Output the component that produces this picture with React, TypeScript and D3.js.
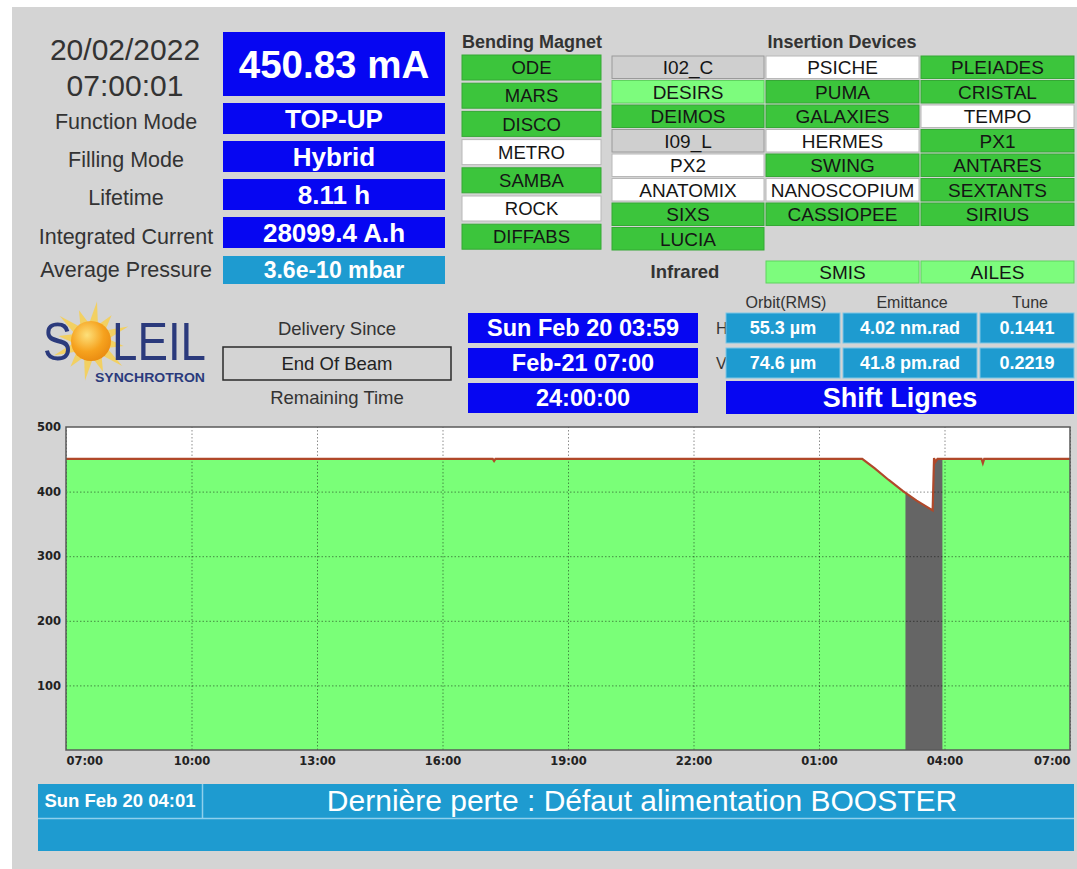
import { useEffect, useRef } from "react";
import * as d3 from "d3";

// ---- data ----
const dateLine = "20/02/2022";
const timeLine = "07:00:01";
const beamCurrentText = "450.83 mA";
const statusLabels = ["Function Mode", "Filling Mode", "Lifetime", "Integrated Current", "Average Pressure"];
const statusValues = ["TOP-UP", "Hybrid", "8.11 h", "28099.4 A.h", "3.6e-10 mbar"];

const bendingMagnets = ["ODE", "MARS", "DISCO", "METRO", "SAMBA", "ROCK", "DIFFABS"];
const bendingStates = ["on", "on", "on", "off", "on", "off", "on"];

const idColumn1 = ["I02_C", "DESIRS", "DEIMOS", "I09_L", "PX2", "ANATOMIX", "SIXS", "LUCIA"];
const idStates1 = ["na", "open", "on", "na", "off", "off", "on", "on"];
const idColumn2 = ["PSICHE", "PUMA", "GALAXIES", "HERMES", "SWING", "NANOSCOPIUM", "CASSIOPEE"];
const idStates2 = ["off", "on", "on", "off", "on", "off", "on"];
const idColumn3 = ["PLEIADES", "CRISTAL", "TEMPO", "PX1", "ANTARES", "SEXTANTS", "SIRIUS"];
const idStates3 = ["on", "on", "off", "on", "on", "on", "on"];
const infrared = ["SMIS", "AILES"];
const infraredStates = ["open", "open"];

const deliveryLabels = ["Delivery Since", "End Of Beam", "Remaining Time"];
const deliveryValues = ["Sun Feb 20 03:59", "Feb-21 07:00", "24:00:00"];

const beamHeaders = ["Orbit(RMS)", "Emittance", "Tune"];
const planes = ["H", "V"];
const beamH = ["55.3 µm", "4.02 nm.rad", "0.1441"];
const beamV = ["74.6 µm", "41.8 pm.rad", "0.2219"];
const shiftText = "Shift Lignes";

// stored current history (mA)
const historyTimes = [
  "2022-02-19 07:00", "2022-02-19 17:12", "2022-02-19 17:14", "2022-02-19 17:16",
  "2022-02-20 02:02", "2022-02-20 02:20", "2022-02-20 02:40", "2022-02-20 03:00",
  "2022-02-20 03:20", "2022-02-20 03:43", "2022-02-20 03:45", "2022-02-20 03:47",
  "2022-02-20 03:50", "2022-02-20 04:53", "2022-02-20 04:55", "2022-02-20 04:57",
  "2022-02-20 07:00",
];
const historyCurrent = [
  450.8, 450.8, 447.5, 450.8,
  450.8, 436, 418, 401,
  386, 371, 452, 446,
  450.8, 450.8, 444, 450.8,
  450.8,
];
const beamOffWindow = ["2022-02-20 03:04", "2022-02-20 03:57"];
const timeTicks = [
  "2022-02-19 07:00", "2022-02-19 10:00", "2022-02-19 13:00", "2022-02-19 16:00",
  "2022-02-19 19:00", "2022-02-19 22:00", "2022-02-20 01:00", "2022-02-20 04:00",
  "2022-02-20 07:00",
];
const currentTicks = [100, 200, 300, 400, 500];

const lastLossTime = "Sun Feb 20 04:01";
const lastLossText = "Dernière perte : Défaut alimentation BOOSTER";

// ---- styles ----
const FONT = "'Liberation Sans', Arial, sans-serif";
const BG = "#d4d4d4";
const BLUE = "#0606f2";
const CYAN = "#1e9bd0";
const stateFill: Record<string, string> = { on: "#3cc53c", open: "#7dfc7d", off: "#ffffff", na: "#cfcfcf" };
const stateStroke: Record<string, string> = { on: "#35a835", open: "#5fd35f", off: "#b8b8b8", na: "#9a9a9a" };

interface BoxProps {
  x: number; y: number; w: number; h: number;
  fill: string; stroke?: string; text: string;
  size: number; bold?: boolean; color?: string; dy?: number;
}

const Box = ({ x, y, w, h, fill, stroke, text, size, bold, color, dy }: BoxProps) => (
  <g>
    <rect x={x} y={y} width={w} height={h} fill={fill} stroke={stroke ?? "none"} strokeWidth={1} />
    <text
      x={x + w / 2}
      y={y + h / 2 + size * 0.36 + (dy ?? 0)}
      textAnchor="middle"
      fontFamily={FONT}
      fontSize={size}
      fontWeight={bold ? "bold" : "normal"}
      fill={color ?? "#fff"}
    >
      {text}
    </text>
  </g>
);

const Logo = () => {
  const cx = 91, cy = 341;
  const rays = d3.range(12).map((i) => {
    const a = (i / 12) * Math.PI * 2 - Math.PI / 2 + 0.15;
    const b = 0.22;
    const p = (ang: number, r: number) => `${cx + r * Math.cos(ang)},${cy + r * Math.sin(ang)}`;
    return `${p(a - b, 19)} ${p(a, i % 2 ? 33 : 40)} ${p(a + b, 19)}`;
  });
  return (
    <g>
      <defs>
        <radialGradient id="sun" cx="40%" cy="35%" r="70%">
          <stop offset="0%" stopColor="#fde07a" />
          <stop offset="60%" stopColor="#f6a21e" />
          <stop offset="100%" stopColor="#e98a10" />
        </radialGradient>
      </defs>
      {rays.map((r, i) => (
        <polygon key={i} points={r} fill="#f7cf4e" opacity={0.85} />
      ))}
      <circle cx={cx} cy={cy} r={20} fill="url(#sun)" />
      <text x={43} y={360} fontFamily={FONT} fontSize={54} fill="#2b3a7c" textLength={29} lengthAdjust="spacingAndGlyphs">S</text>
      <text x={112} y={360} fontFamily={FONT} fontSize={54} fill="#2b3a7c" textLength={94} lengthAdjust="spacingAndGlyphs">LEIL</text>
      <text x={95} y={382} fontFamily={FONT} fontSize={12} fontWeight="bold" fill="#2b3a7c" textLength={110} lengthAdjust="spacingAndGlyphs">SYNCHROTRON</text>
    </g>
  );
};

const CurrentChart = () => {
  const gRef = useRef<SVGGElement | null>(null);

  useEffect(() => {
    if (!gRef.current) return;
    const parse = d3.timeParse("%Y-%m-%d %H:%M");
    const data = historyTimes.map((t, i) => ({ date: parse(t)!, value: historyCurrent[i] }));
    const ticks = timeTicks.map((t) => parse(t)!);
    const off = beamOffWindow.map((t) => parse(t)!);

    const left = 66, right = 1070, top = 427, bottom = 750;
    const x = d3.scaleTime().domain([ticks[0], ticks[ticks.length - 1]]).range([left, right]);
    const y = d3.scaleLinear().domain([0, 500]).range([bottom, top]);

    const g = d3.select(gRef.current);
    g.selectAll("*").remove();

    g.append("rect").attr("x", left).attr("y", top).attr("width", right - left).attr("height", bottom - top).attr("fill", "#fff");

    const area = d3.area<{ date: Date; value: number }>().x((d) => x(d.date)).y0(y(0)).y1((d) => y(d.value));
    const line = d3.line<{ date: Date; value: number }>().x((d) => x(d.date)).y((d) => y(d.value));

    g.append("path").datum(data).attr("fill", "#7aff78").attr("d", area);

    // beam off window
    g.append("clipPath").attr("id", "beam-off")
      .append("rect").attr("x", x(off[0])).attr("y", top).attr("width", x(off[1]) - x(off[0])).attr("height", bottom - top);
    g.append("path").datum(data).attr("fill", "#656565").attr("clip-path", "url(#beam-off)").attr("d", area);

    // grid
    g.append("g")
      .attr("transform", `translate(0,${bottom})`)
      .call(d3.axisBottom(x).tickValues(ticks).tickSize(-(bottom - top)).tickFormat(() => ""))
      .call((s) => s.select(".domain").remove())
      .selectAll("line").attr("stroke", "#000").attr("stroke-opacity", 0.45).attr("stroke-dasharray", "1.5,2");

    g.append("g")
      .attr("transform", `translate(${left},0)`)
      .call(d3.axisLeft(y).tickValues(currentTicks.slice(0, -1)).tickSize(-(right - left)).tickFormat(() => ""))
      .call((s) => s.select(".domain").remove())
      .selectAll("line").attr("stroke", "#000").attr("stroke-opacity", 0.45).attr("stroke-dasharray", "1.5,2");

    g.append("path").datum(data).attr("fill", "none").attr("stroke", "#b0482a").attr("stroke-width", 2.2).attr("d", line);

    g.append("rect").attr("x", left).attr("y", top).attr("width", right - left).attr("height", bottom - top)
      .attr("fill", "none").attr("stroke", "#5a5a5a").attr("stroke-width", 1.5);

    // axis labels
    const yAxis = g.append("g")
      .attr("transform", `translate(${left},0)`)
      .call(d3.axisLeft(y).tickValues(currentTicks).tickSize(0).tickPadding(5));
    yAxis.select(".domain").remove();
    yAxis.selectAll("text").attr("font-family", "'DejaVu Sans', sans-serif").attr("font-weight", "bold").attr("font-size", 11.5).attr("fill", "#222");

    const xAxis = g.append("g")
      .attr("transform", `translate(0,${bottom})`)
      .call(d3.axisBottom(x).tickValues(ticks).tickSize(0).tickPadding(7).tickFormat(d3.timeFormat("%H:%M") as any));
    xAxis.select(".domain").remove();
    xAxis.selectAll<SVGTextElement, Date>("text")
      .attr("font-family", "'DejaVu Sans', sans-serif").attr("font-weight", "bold").attr("font-size", 11.5).attr("fill", "#222")
      .attr("text-anchor", (_, i) => (i === 0 ? "start" : i === ticks.length - 1 ? "end" : "middle"));
  }, []);

  return <g ref={gRef} />;
};

export default function App() {
  const statusTops = [103, 141, 179, 217, 256];
  const statusH = [31, 31, 31, 31, 28];
  const labelBase = [129, 167, 205, 244, 277];
  const idCols = [
    { x: 612, names: idColumn1, states: idStates1 },
    { x: 766, names: idColumn2, states: idStates2 },
    { x: 921, names: idColumn3, states: idStates3 },
  ];
  const beamCols = [
    { x: 726, w: 114, c: 786 },
    { x: 843, w: 134, c: 912 },
    { x: 980, w: 94, c: 1030 },
  ];

  return (
    <svg width={1077} height={869} style={{ position: "absolute", left: 0, top: 0 }}>
      <rect x={0} y={0} width={1077} height={869} fill="#fff" />
      <rect x={12} y={7} width={1065} height={862} fill={BG} />

      {/* clock + status */}
      <text x={125} y={60} textAnchor="middle" fontFamily={FONT} fontSize={30} fill="#333">{dateLine}</text>
      <text x={125} y={96} textAnchor="middle" fontFamily={FONT} fontSize={30} fill="#333">{timeLine}</text>
      <Box x={223} y={32} w={222} h={64} fill={BLUE} text={beamCurrentText} size={38.5} bold />
      {statusLabels.map((l, i) => (
        <g key={l}>
          <text x={126} y={labelBase[i]} textAnchor="middle" fontFamily={FONT} fontSize={21.5} fill="#333">{l}</text>
          <Box x={223} y={statusTops[i]} w={222} h={statusH[i]} fill={i === 4 ? CYAN : BLUE}
            text={statusValues[i]} size={i === 4 ? 23 : 26} bold />
        </g>
      ))}

      {/* bending magnets */}
      <text x={462} y={48} fontFamily={FONT} fontSize={18} fontWeight="bold" fill="#333">Bending Magnet</text>
      {bendingMagnets.map((b, i) => (
        <Box key={b} x={462} y={55 + i * 28.2} w={139} h={25} fill={stateFill[bendingStates[i]]}
          stroke={stateStroke[bendingStates[i]]} text={b} size={18.5} color="#151515" />
      ))}

      {/* insertion devices */}
      <text x={842} y={48} textAnchor="middle" fontFamily={FONT} fontSize={18} fontWeight="bold" fill="#333">Insertion Devices</text>
      {idCols.map((col) =>
        col.names.map((n, i) => (
          <Box key={n} x={col.x} y={56 + i * 24.5} w={col.x === 612 ? 152 : 153} h={22.5}
            fill={stateFill[col.states[i]]} stroke={stateStroke[col.states[i]]} text={n} size={19} color="#151515" />
        ))
      )}
      <text x={685} y={278} textAnchor="middle" fontFamily={FONT} fontSize={18.5} fontWeight="bold" fill="#333">Infrared</text>
      {infrared.map((n, i) => (
        <Box key={n} x={766 + i * 155} y={261} w={153} h={22} fill={stateFill[infraredStates[i]]}
          stroke={stateStroke[infraredStates[i]]} text={n} size={19} color="#151515" />
      ))}

      {/* logo and delivery */}
      <Logo />
      <text x={337} y={335} textAnchor="middle" fontFamily={FONT} fontSize={18.5} fill="#333">{deliveryLabels[0]}</text>
      <Box x={223} y={347} w={228} h={33} fill="none" text={deliveryLabels[1]} size={18.5} color="#222" />
      <rect x={223} y={347} width={228} height={33} fill="none" stroke="#2a2a2a" strokeWidth={1.5} />
      <text x={337} y={404} textAnchor="middle" fontFamily={FONT} fontSize={18.5} fill="#333">{deliveryLabels[2]}</text>
      {deliveryValues.map((v, i) => (
        <Box key={v} x={468} y={313 + i * 35} w={230} h={30} fill={BLUE} text={v} size={23.5} bold />
      ))}

      {/* beam parameters */}
      {planes.map((p, i) => (
        <text key={p} x={716} y={334 + i * 35} fontFamily={FONT} fontSize={16} fill="#333">{p}</text>
      ))}
      {beamHeaders.map((h, i) => (
        <text key={h} x={beamCols[i].c} y={308} textAnchor="middle" fontFamily={FONT} fontSize={16} fill="#333">{h}</text>
      ))}
      {[beamH, beamV].map((row, r) =>
        row.map((v, i) => (
          <Box key={v} x={beamCols[i].x} y={313 + r * 35} w={beamCols[i].w} h={30} fill={CYAN} stroke="#7cc6e6"
            text={v} size={18} bold />
        ))
      )}
      <Box x={726} y={381} w={348} h={33} fill={BLUE} text={shiftText} size={27} bold />

      {/* current history */}
      <CurrentChart />

      {/* last loss */}
      <rect x={38} y={784} width={1036} height={34} fill={CYAN} />
      <rect x={38} y={819} width={1036} height={32} fill={CYAN} />
      <line x1={38} x2={1074} y1={818.5} y2={818.5} stroke="#8fd0ec" strokeWidth={1.5} />
      <line x1={202.5} x2={202.5} y1={784} y2={818} stroke="#8fd0ec" strokeWidth={1.5} />
      <text x={120} y={807} textAnchor="middle" fontFamily={FONT} fontSize={18.5} fontWeight="bold" fill="#fff">{lastLossTime}</text>
      <text x={642} y={811} textAnchor="middle" fontFamily={FONT} fontSize={30} fill="#fff">{lastLossText}</text>
    </svg>
  );
}
